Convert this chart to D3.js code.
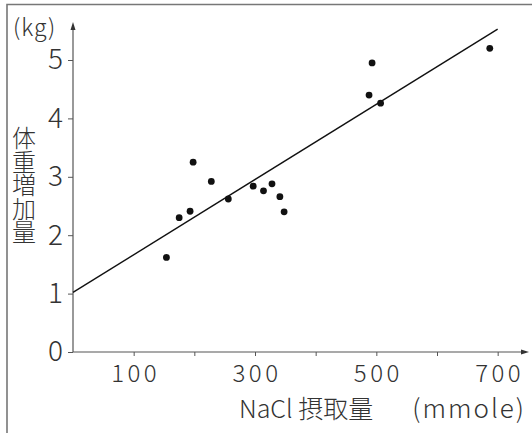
<!DOCTYPE html>
<html>
<head>
<meta charset="utf-8">
<script src="https://cdn.jsdelivr.net/npm/d3@7"></script>
<style>
  body { margin: 0; background: #fff; }
  text { font-family: "Noto Sans CJK JP", "Noto Sans", sans-serif; fill: #333; }
</style>
</head>
<body>
<div id="chart"></div>
<script>
// data
let nacl = [154, 175, 193, 198, 228, 256, 297, 314, 328, 341, 348, 488, 493, 507, 687];
let gain = [1.62, 2.30, 2.41, 3.25, 2.92, 2.62, 2.84, 2.76, 2.88, 2.66, 2.40, 4.40, 4.95, 4.26, 5.20];
let fitX = [0, 700];
let fitY = [1.02, 5.53];
let xTicks = [100, 200, 300, 400, 500, 600, 700];
let xLabelTicks = [100, 300, 500, 700];
let yTicks = [0, 1, 2, 3, 4, 5];

let svgWidth = 532;
let svgHeight = 433;

let svg = d3.select("#chart")
  .append("svg")
  .attr("width", svgWidth)
  .attr("height", svgHeight);

// scales
let x = d3.scaleLinear().domain([0, 750]).range([73, 528]);
let y = d3.scaleLinear().domain([0, 5]).range([352, 60]);

// frame (left and top only)
svg.append("path")
  .attr("d", "M7,433 L7,4.5 L532,4.5")
  .attr("fill", "none")
  .attr("stroke", "#777")
  .attr("stroke-width", 1.6);

// axes
let xAxis = svg.append("g")
  .attr("transform", `translate(0, ${y(0)})`)
  .call(d3.axisBottom(x)
    .tickValues(xTicks)
    .tickSize(4)
    .tickSizeOuter(0)
    .tickPadding(9)
    .tickFormat(d => xLabelTicks.includes(d) ? d : ""));

let yAxis = svg.append("g")
  .attr("transform", `translate(${x(0)}, 0)`)
  .call(d3.axisLeft(y)
    .tickValues(yTicks)
    .tickSize(5)
    .tickSizeOuter(0)
    .tickPadding(5)
    .tickFormat(d3.format("d")));

[xAxis, yAxis].forEach(g => {
  g.select(".domain").remove();
  g.selectAll(".tick line").attr("stroke", "#555").attr("stroke-width", 1);
  g.selectAll(".tick text")
    .style("font-family", '"Noto Sans CJK JP", sans-serif')
    .style("font-weight", 300)
    .attr("fill", "#333");
});
xAxis.selectAll(".tick text")
  .style("font-size", "24px")
  .style("letter-spacing", "3.5px")
  .attr("dx", "1.5px");
yAxis.selectAll(".tick text")
  .style("font-size", "28px");

// axis lines with arrows
svg.append("line")
  .attr("x1", x(0)).attr("y1", y(0))
  .attr("x2", 524).attr("y2", y(0))
  .attr("stroke", "#555").attr("stroke-width", 1.2);
svg.append("path")
  .attr("d", `M529,${y(0)} L521,${y(0) - 2.5} L521,${y(0) + 2.5} Z`)
  .attr("fill", "#333");

svg.append("line")
  .attr("x1", x(0)).attr("y1", y(0))
  .attr("x2", x(0)).attr("y2", 27)
  .attr("stroke", "#555").attr("stroke-width", 1.2);
svg.append("path")
  .attr("d", `M${x(0)},22 L${x(0) - 2.5},30 L${x(0) + 2.5},30 Z`)
  .attr("fill", "#333");

// regression line
svg.append("line")
  .attr("x1", x(fitX[0])).attr("y1", y(fitY[0]))
  .attr("x2", x(fitX[1])).attr("y2", y(fitY[1]))
  .attr("stroke", "#111")
  .attr("stroke-width", 1.4);

// points
svg.selectAll("circle.pt")
  .data(nacl.map((d, i) => [d, gain[i]]))
  .enter()
  .append("circle")
  .classed("pt", true)
  .attr("cx", d => x(d[0]))
  .attr("cy", d => y(d[1]))
  .attr("r", 3.4)
  .attr("fill", "#111");

// labels
svg.append("text")
  .attr("x", 13)
  .attr("y", 36)
  .style("font-size", "23px")
  .style("font-weight", 300)
  .style("letter-spacing", "1px")
  .text("(kg)");

// vertical y label as one text
svg.append("text")
  .attr("x", 24)
  .attr("y", 126)
  .style("writing-mode", "vertical-rl")
  .style("font-size", "24px")
  .style("font-weight", 300)
  .style("letter-spacing", "-0.5px")
  .text("体重増加量");

svg.append("text")
  .attr("x", 239)
  .attr("y", 418)
  .style("font-size", "25px")
  .style("font-weight", 300)
  .text("NaCl 摂取量");

svg.append("text")
  .attr("x", 526)
  .attr("y", 418)
  .attr("text-anchor", "end")
  .style("font-size", "26px")
  .style("font-weight", 300)
  .style("letter-spacing", "2px")
  .text("(mmole)");
</script>
</body>
</html>
